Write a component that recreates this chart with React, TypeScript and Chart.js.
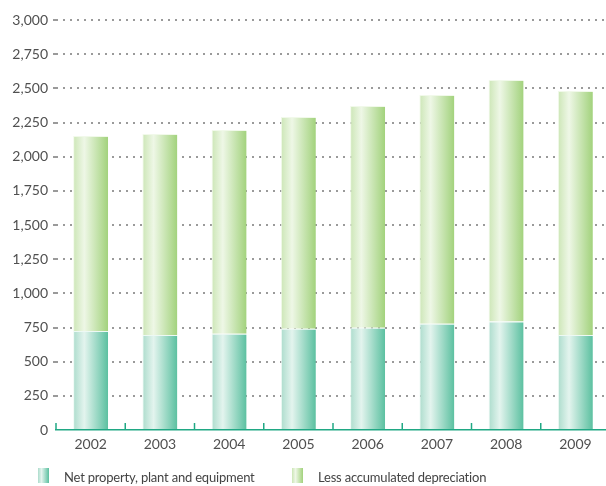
import React, { useEffect, useRef } from "react";
import { Chart, registerables } from "chart.js";

Chart.register(...registerables);

const years = ["2002", "2003", "2004", "2005", "2006", "2007", "2008", "2009"];
const netPPE = [724, 695, 705, 741, 749, 778, 793, 695];
const accumulatedDepreciation = [1427, 1470, 1490, 1549, 1621, 1673, 1768, 1785];
const legendLabels = ["Net property, plant and equipment", "Less accumulated depreciation"];

const FONT = "Lato, 'Open Sans', sans-serif";
const TEAL_STOPS: [number, string][] = [
  [0, "#acdccc"],
  [0.32, "#e3f4ee"],
  [1, "#5bc0a0"],
];
const GREEN_STOPS: [number, string][] = [
  [0, "#cce6b6"],
  [0.32, "#eef7e6"],
  [1, "#a2d27c"],
];

function cssGradient(stops: [number, string][]) {
  return `linear-gradient(to right, ${stops.map(([p, c]) => `${c} ${p * 100}%`).join(", ")})`;
}

export default function App() {
  const canvasRef = useRef<HTMLCanvasElement | null>(null);

  useEffect(() => {
    document.body.style.margin = "0";
    const canvas = canvasRef.current;
    if (!canvas) return;

    const makeFill = (stops: [number, string][], fallback: string) => (ctx: any) => {
      const chart = ctx.chart;
      const xs = chart.scales?.x;
      if (!chart.chartArea || !xs || ctx.dataIndex === undefined) return fallback;
      const cx = xs.getPixelForValue(ctx.dataIndex);
      const half = 17.5;
      const g = chart.ctx.createLinearGradient(cx - half, 0, cx + half, 0);
      stops.forEach(([p, c]) => g.addColorStop(p, c));
      return g;
    };

    const boundaryTicks = {
      id: "boundaryTicks",
      afterDraw(chart: any) {
        const xs = chart.scales.x;
        const { ctx, chartArea } = chart;
        const n = years.length;
        const step = xs.getPixelForValue(1) - xs.getPixelForValue(0);
        ctx.save();
        ctx.strokeStyle = "#20a884";
        ctx.lineWidth = 1.5;
        for (let i = 0; i <= n; i++) {
          const x = xs.getPixelForValue(i) - step / 2;
          ctx.beginPath();
          ctx.moveTo(x, chartArea.bottom);
          ctx.lineTo(x, chartArea.bottom - 7);
          ctx.stroke();
        }
        ctx.restore();
      },
    };

    const chart = new Chart(canvas, {
      type: "bar",
      data: {
        labels: years,
        datasets: [
          {
            label: legendLabels[0],
            data: netPPE,
            backgroundColor: makeFill(TEAL_STOPS, "#8fd0bb"),
            borderWidth: { left: 1, top: 1, right: 0, bottom: 0 } as any,
            borderColor: "rgba(235,248,243,0.9)",
            barPercentage: 1,
            categoryPercentage: 0.505,
          },
          {
            label: legendLabels[1],
            data: accumulatedDepreciation,
            backgroundColor: makeFill(GREEN_STOPS, "#bfe0a4"),
            borderWidth: { left: 1, top: 1, right: 0, bottom: 0 } as any,
            borderColor: "rgba(240,248,232,0.9)",
            barPercentage: 1,
            categoryPercentage: 0.505,
          },
        ],
      },
      options: {
        animation: false,
        responsive: false,
        maintainAspectRatio: false,
        layout: { padding: { top: 20, right: 0, bottom: 0, left: 0 } },
        plugins: {
          legend: { display: false },
          tooltip: { enabled: false },
        },
        scales: {
          x: {
            stacked: true,
            offset: true,
            grid: { display: false, drawTicks: false },
            border: { display: true, color: "#20a884", width: 1.5 },
            ticks: {
              color: "#505050",
              font: { family: FONT, size: 14 },
              padding: 6,
            },
            afterFit(scale: any) {
              scale.height = 56;
            },
          },
          y: {
            stacked: true,
            min: 0,
            max: 3000,
            grid: {
              color: (ctx: any) => (ctx.tick && ctx.tick.value === 0 ? "rgba(0,0,0,0)" : "#9a9a9a"),
              lineWidth: 2,
              drawTicks: true,
              tickLength: 3,
            },
            border: { display: false, dash: [2, 5] },
            ticks: {
              stepSize: 250,
              color: "#505050",
              font: { family: FONT, size: 14 },
              padding: 5,
              callback: (v: any) => Number(v).toLocaleString("en-US"),
            },
            afterFit(scale: any) {
              scale.width = 56;
            },
          },
        },
      },
      plugins: [boundaryTicks],
    });

    return () => chart.destroy();
  }, []);

  const legendText: React.CSSProperties = {
    position: "absolute",
    top: 469,
    fontFamily: FONT,
    fontSize: 13,
    letterSpacing: "-0.2px",
    color: "#444444",
    lineHeight: "17px",
    whiteSpace: "nowrap",
  };

  return (
    <div style={{ position: "relative", width: 606, height: 486, overflow: "hidden", background: "#fff" }}>
      <canvas ref={canvasRef} width={610} height={486} style={{ width: 610, height: 486, display: "block" }} />
      <div style={{ position: "absolute", left: 38, top: 468, width: 11, height: 15, background: cssGradient(TEAL_STOPS) }} />
      <div style={{ ...legendText, left: 64 }}>{legendLabels[0]}</div>
      <div style={{ position: "absolute", left: 292, top: 468, width: 11, height: 15, background: cssGradient(GREEN_STOPS) }} />
      <div style={{ ...legendText, left: 318 }}>{legendLabels[1]}</div>
    </div>
  );
}
